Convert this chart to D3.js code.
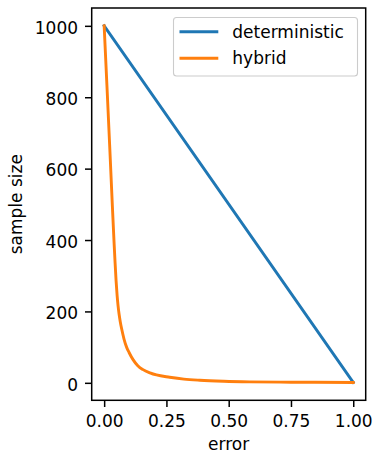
<!DOCTYPE html>
<html>
<head>
<meta charset="utf-8">
<script src="https://cdn.jsdelivr.net/npm/d3@7"></script>
<style>
  body { margin: 0; background: #fff; }
  svg text { font-family: "DejaVu Sans", sans-serif; }
</style>
</head>
<body>
<script>
// series: [error, sample size]
var deterministic = [[0, 1000], [1, 1]];
var hybrid = [
    [0, 1000], [0.011, 835], [0.022, 667], [0.033, 495], [0.04, 390], [0.044, 335],
    [0.048, 285], [0.052, 245], [0.056, 215], [0.06, 192], [0.065, 170], [0.07, 152],
    [0.08, 122], [0.09, 100], [0.1, 85], [0.116, 65], [0.135, 48], [0.156, 37],
    [0.184, 28], [0.21, 22], [0.263, 15.7], [0.32, 10.5], [0.384, 7.3], [0.48, 4.5],
    [0.584, 2.8], [0.75, 1.8], [1.0, 1]
];
var seriesNames = ['deterministic', 'hybrid'];
var seriesColors = ['#1f77b4', '#ff7f0e'];
var xTicks = [0, 0.25, 0.5, 0.75, 1.0];
var yTicks = [0, 200, 400, 600, 800, 1000];

var W = 377, H = 453;
var plotLeft = 91.7, plotRight = 365.7, plotTop = 8, plotBottom = 400.3;
var fontSize = 17;
var lw = 2.9;

var svg = d3.select('body').append('svg').attr('width', W).attr('height', H);

var x = d3.scaleLinear().domain([-0.05, 1.05]).range([plotLeft, plotRight]);
var y = d3.scaleLinear().domain([-48.95, 1049.95]).range([plotBottom, plotTop]);

var line = d3.line().curve(d3.curveMonotoneX)
    .x(function(d) { return x(d[0]); }).y(function(d) { return y(d[1]); });

[deterministic, hybrid].forEach(function(s, i) {
    svg.append('path').datum(s).attr('d', line)
        .attr('fill', 'none').attr('stroke', seriesColors[i])
        .attr('stroke-width', lw).attr('stroke-linejoin', 'round').attr('stroke-linecap', 'square');
});

// axes
var xAxis = svg.append('g').attr('transform', 'translate(0,' + plotBottom + ')')
    .call(d3.axisBottom(x).tickValues(xTicks).tickFormat(d3.format('.2f')).tickSize(6.7).tickPadding(6.7));
var yAxis = svg.append('g').attr('transform', 'translate(' + plotLeft + ',0)')
    .call(d3.axisLeft(y).tickValues(yTicks).tickFormat(d3.format('d')).tickSize(6.7).tickPadding(7));

[xAxis, yAxis].forEach(function(a) {
    a.select('.domain').remove();
    a.selectAll('.tick line').attr('stroke', '#000').attr('stroke-width', 1.5);
    a.selectAll('.tick text').attr('fill', '#000')
        .style('font-family', '"DejaVu Sans", sans-serif').style('font-size', fontSize + 'px');
});
xAxis.selectAll('.tick text').attr('dy', null).attr('y', 26.3);
yAxis.selectAll('.tick text').attr('dy', '0.43em');

svg.append('rect').attr('x', plotLeft).attr('y', plotTop)
    .attr('width', plotRight - plotLeft).attr('height', plotBottom - plotTop)
    .attr('fill', 'none').attr('stroke', '#000').attr('stroke-width', 1.5);

// axis labels
svg.append('text').attr('x', (plotLeft + plotRight) / 2).attr('y', 450)
    .attr('text-anchor', 'middle').style('font-size', fontSize + 'px').text('error');
svg.append('text').attr('transform', 'translate(22,' + ((plotTop + plotBottom) / 2) + ') rotate(-90)')
    .attr('text-anchor', 'middle').style('font-size', fontSize + 'px').text('sample size');

// legend
var legend = svg.append('g');
legend.append('rect').attr('x', 173.5).attr('y', 17.5).attr('width', 184).attr('height', 58.5)
    .attr('rx', 3).attr('fill', '#fff').attr('fill-opacity', 0.8)
    .attr('stroke', '#cccccc').attr('stroke-width', 1.1);
seriesNames.forEach(function(name, i) {
    var ly = 31.7 + i * 26.6;
    legend.append('line').attr('x1', 179.5).attr('x2', 218.3).attr('y1', ly).attr('y2', ly)
        .attr('stroke', seriesColors[i]).attr('stroke-width', lw);
    legend.append('text').attr('x', 232.3).attr('y', ly + 5.8)
        .style('font-size', fontSize + 'px').text(name);
});
</script>
</body>
</html>
